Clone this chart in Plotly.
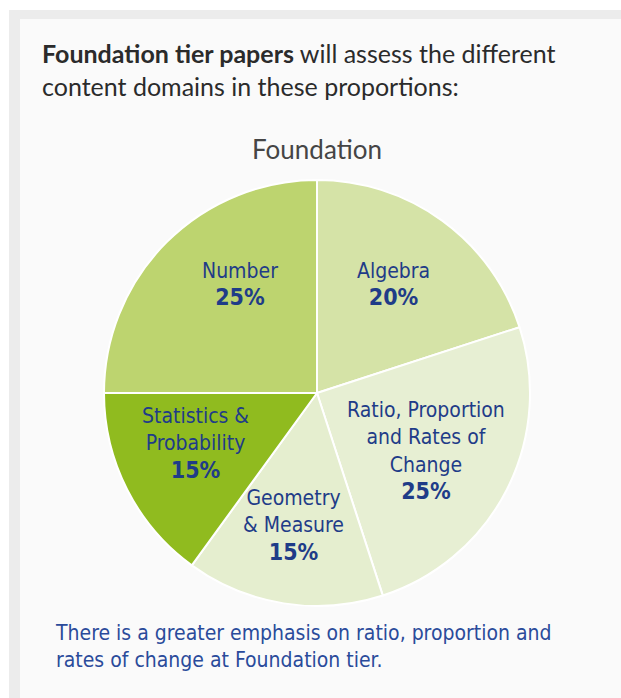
import plotly.graph_objects as go

# Data
domains = ["Algebra", "Ratio, Proportion and Rates of Change", "Geometry & Measure",
           "Statistics & Probability", "Number"]
shares = [20, 25, 15, 15, 25]
label_lines = [["Algebra"], ["Ratio, Proportion", "and Rates of", "Change"],
               ["Geometry", "& Measure"], ["Statistics &", "Probability"], ["Number"]]
slice_colors = ["#d5e3a7", "#e7efd3", "#e5eecf", "#90bb1f", "#bdd46f"]

W, H = 621, 698
# pie geometry in pixels
cx, cy, R = 317, 393, 213

# label offsets (in radius units) from pie centre
label_offsets = [(0.357, 0.51), (0.51, -0.27), (-0.11, -0.62), (-0.57, -0.235), (-0.36, 0.51)]

fig = go.Figure()
fig.add_trace(go.Pie(
    labels=domains, values=shares, sort=False, direction="clockwise", rotation=0,
    marker=dict(colors=slice_colors, line=dict(color="#ffffff", width=2)),
    textinfo="none", hoverinfo="label+percent", showlegend=False,
    domain=dict(x=[(cx - R) / W, (cx + R) / W], y=[1 - (cy + R) / H, 1 - (cy - R) / H]),
))

label_font = "DejaVu Sans Condensed, Liberation Sans Narrow, sans-serif"
for lines, v, (dx, dy) in zip(label_lines, shares, label_offsets):
    txt = "<br>".join(lines) + f"<br><b><span style='font-size:23px'>{v}%</span></b>"
    fig.add_annotation(
        x=(cx + dx * R) / W, y=1 - (cy - dy * R) / H, xref="paper", yref="paper",
        text=txt, showarrow=False, xanchor="center", yanchor="middle",
        font=dict(family=label_font, size=21, color="#1f3c88"), align="center",
    )

# title
fig.add_annotation(x=cx / W, y=1 - 149 / H, xref="paper", yref="paper", text="Foundation",
                   showarrow=False, xanchor="center", yanchor="middle",
                   font=dict(family="Lato, Noto Sans, sans-serif", size=26, color="#454545"))

# header
fig.add_annotation(x=40 / W, y=1 - 69 / H, xref="paper", yref="paper",
                   text="<b>Foundation tier papers</b> will assess the different<br>content domains in these proportions:",
                   showarrow=False, xanchor="left", yanchor="middle", align="left",
                   font=dict(family="Lato, Noto Sans, sans-serif", size=25, color="#2b2b2b"))

# footer
fig.add_annotation(x=53 / W, y=1 - 646 / H, xref="paper", yref="paper",
                   text="There is a greater emphasis on ratio, proportion and<br>rates of change at Foundation tier.",
                   showarrow=False, xanchor="left", yanchor="middle", align="left",
                   font=dict(family=label_font, size=21, color="#2a4b9b"))

# panel background
fig.add_shape(type="rect", xref="paper", yref="paper", x0=9 / W, x1=1.01, y0=-0.01, y1=1 - 10 / H,
              fillcolor="#ececec", line=dict(width=0), layer="below")
fig.add_shape(type="rect", xref="paper", yref="paper", x0=20 / W, x1=1.01, y0=-0.01, y1=1 - 19 / H,
              fillcolor="#fafafa", line=dict(width=0), layer="below")

fig.update_layout(width=W, height=H, margin=dict(l=0, r=0, t=0, b=0),
                  paper_bgcolor="#ffffff", plot_bgcolor="#ffffff")
fig.write_html("out.html", config={"displayModeBar": False},
               post_script="document.body.style.margin='0';document.body.style.overflow='hidden';")
